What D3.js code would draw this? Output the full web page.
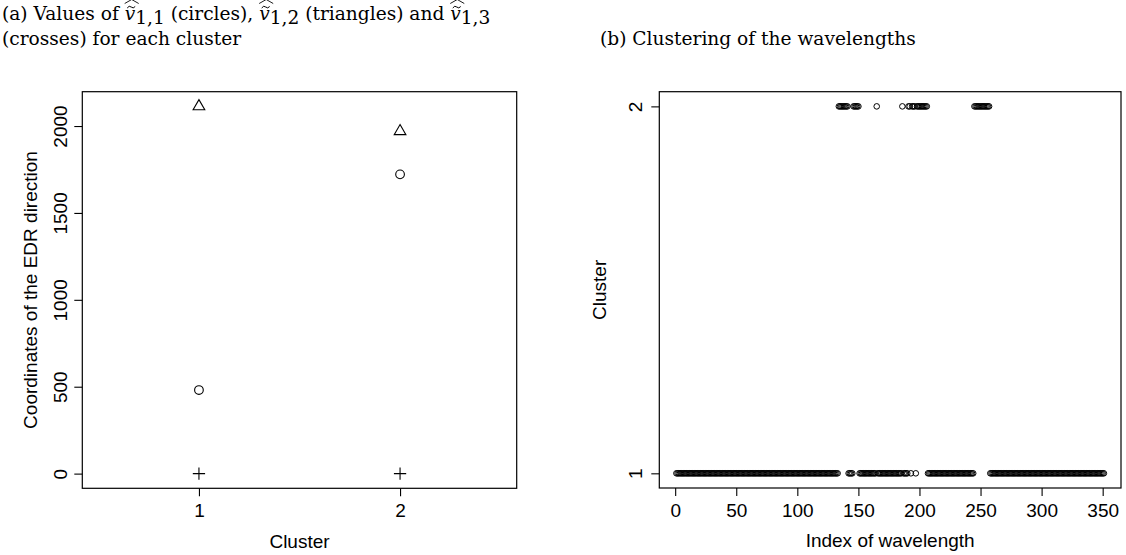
<!DOCTYPE html>
<html>
<head>
<meta charset="utf-8">
<script src="https://cdn.jsdelivr.net/npm/d3@7"></script>
<style>
  body { margin: 0; background: #fff; }
  svg { display: block; }
  .tick text, .lab { font-family: "Liberation Sans", Arial, sans-serif; font-size: 19px; fill: #000; }
  .ttl { font-family: "DejaVu Serif", serif; font-size: 18.6px; fill: #000; white-space: pre; }
</style>
</head>
<body>
<div id="chart"></div>
<script>
"use strict";

// panel (a): EDR coordinates per cluster
var clusters = [1, 2];
var v11 = [481, 1722];   // circles
var v12 = [2113, 1970];  // triangles
var v13 = [0, 0];        // crosses
var leftYTicks = [0, 500, 1000, 1500, 2000];

// panel (b): cluster of each wavelength, as runs [from, to, cluster]
var clusterRuns = [
  [1, 133, 1], [134, 141, 2], [142, 145, 1], [146, 150, 2],
  [151, 164, 1], [165, 165, 2], [166, 185, 1], [186, 186, 2],
  [187, 190, 1], [191, 192, 2], [193, 193, 1], [194, 196, 2],
  [197, 197, 1], [198, 206, 2], [207, 244, 1], [245, 257, 2],
  [258, 351, 1]
];
var rightXTicks = [0, 50, 100, 150, 200, 250, 300, 350];
var rightYTicks = [1, 2];

var width = 1126,
  height = 555;

var svg = d3
  .select("#chart")
  .append("svg")
  .attr("width", width)
  .attr("height", height);

// R pads the data range by 4% on each side
function rDomain(lo, hi) {
  var e = (hi - lo) * 0.04;
  return [lo - e, hi + e];
}

// ---------- panel (a)
var boxA = { l: 82.3, r: 516.7, t: 91.7, b: 488.3 };
var xA = d3.scaleLinear().domain(rDomain(0.5, 2.5)).range([boxA.l, boxA.r]);
var yA = d3.scaleLinear().domain(rDomain(0, d3.max(v12))).range([boxA.b, boxA.t]);

var gA = svg.append("g");

gA.append("g")
  .attr("transform", "translate(0," + boxA.b + ")")
  .call(d3.axisBottom(xA).tickValues(clusters).tickFormat(d3.format("d")).tickSize(8))
  .call(g => g.select(".domain").remove())
  .call(g => g.selectAll("text").attr("dy", 0).attr("y", 28.3));

gA.append("g")
  .attr("transform", "translate(" + boxA.l + ",0)")
  .call(d3.axisLeft(yA).tickValues(leftYTicks).tickFormat(d3.format("d")).tickSize(8))
  .call(g => g.select(".domain").remove())
  .call(g =>
    g.selectAll("text")
      .attr("x", 0)
      .attr("y", -15.8)
      .attr("dy", 0)
      .attr("text-anchor", "middle")
      .attr("transform", "rotate(-90)")
  );

gA.selectAll(".tick line").attr("stroke", "#000").attr("stroke-width", 1.1);

gA.append("rect")
  .attr("x", boxA.l)
  .attr("y", boxA.t)
  .attr("width", boxA.r - boxA.l)
  .attr("height", boxA.b - boxA.t)
  .attr("fill", "none")
  .attr("stroke", "#000")
  .attr("stroke-width", 1.2);

gA.append("text")
  .attr("class", "lab")
  .attr("x", (boxA.l + boxA.r) / 2)
  .attr("y", 548)
  .attr("text-anchor", "middle")
  .text("Cluster");

gA.append("text")
  .attr("class", "lab")
  .attr("transform", "translate(36.6," + (boxA.t + boxA.b) / 2 + ") rotate(-90)")
  .attr("text-anchor", "middle")
  .text("Coordinates of the EDR direction");

// pch 1 / 2 / 3 sizes
var R = 4.34;
function triangle(cx, cy) {
  var r = 1.5551 * R, xc = 1.3468 * R, yc = 0.7776 * R;
  var p = d3.path();
  p.moveTo(cx, cy - r);
  p.lineTo(cx + xc, cy + yc);
  p.lineTo(cx - xc, cy + yc);
  p.closePath();
  return p.toString();
}
function cross(cx, cy) {
  var c = Math.SQRT2 * R;
  return "M" + (cx - c) + "," + cy + "H" + (cx + c) + "M" + cx + "," + (cy - c) + "V" + (cy + c);
}

gA.selectAll("circle.v11")
  .data(clusters)
  .enter()
  .append("circle")
  .attr("class", "v11")
  .attr("cx", d => xA(d))
  .attr("cy", (d, i) => yA(v11[i]))
  .attr("r", R)
  .attr("fill", "none")
  .attr("stroke", "#000")
  .attr("stroke-width", 1.1);

gA.selectAll("path.v12")
  .data(clusters)
  .enter()
  .append("path")
  .attr("class", "v12")
  .attr("d", (d, i) => triangle(xA(d), yA(v12[i])))
  .attr("fill", "none")
  .attr("stroke", "#000")
  .attr("stroke-width", 1.1);

gA.selectAll("path.v13")
  .data(clusters)
  .enter()
  .append("path")
  .attr("class", "v13")
  .attr("d", (d, i) => cross(xA(d), yA(v13[i])))
  .attr("fill", "none")
  .attr("stroke", "#000")
  .attr("stroke-width", 1.1);

// ---------- panel (b)
var points = [];
clusterRuns.forEach(function(run) {
  for (var k = run[0]; k <= run[1]; k++) points.push({ index: k, cluster: run[2] });
});

var boxB = { l: 659.3, r: 1121, t: 91.7, b: 488 };
var xB = d3.scaleLinear().domain(rDomain(1, d3.max(points, d => d.index))).range([boxB.l, boxB.r]);
var yB = d3.scaleLinear().domain(rDomain(1, 2)).range([boxB.b, boxB.t]);

var gB = svg.append("g");

gB.append("g")
  .attr("transform", "translate(0," + boxB.b + ")")
  .call(d3.axisBottom(xB).tickValues(rightXTicks).tickFormat(d3.format("d")).tickSize(8))
  .call(g => g.select(".domain").remove())
  .call(g => g.selectAll("text").attr("dy", 0).attr("y", 28.5));

gB.append("g")
  .attr("transform", "translate(" + boxB.l + ",0)")
  .call(d3.axisLeft(yB).tickValues(rightYTicks).tickFormat(d3.format("d")).tickSize(8))
  .call(g => g.select(".domain").remove())
  .call(g =>
    g.selectAll("text")
      .attr("x", 0)
      .attr("y", -17)
      .attr("dy", 0)
      .attr("text-anchor", "middle")
      .attr("transform", "rotate(-90)")
  );

gB.selectAll(".tick line").attr("stroke", "#000").attr("stroke-width", 1.1);

gB.append("rect")
  .attr("x", boxB.l)
  .attr("y", boxB.t)
  .attr("width", boxB.r - boxB.l)
  .attr("height", boxB.b - boxB.t)
  .attr("fill", "none")
  .attr("stroke", "#000")
  .attr("stroke-width", 1.2);

gB.selectAll("circle.pt")
  .data(points)
  .enter()
  .append("circle")
  .attr("class", "pt")
  .attr("cx", d => xB(d.index))
  .attr("cy", d => yB(d.cluster))
  .attr("r", 2.8)
  .attr("fill", "none")
  .attr("stroke", "#000")
  .attr("stroke-width", 1);

gB.append("text")
  .attr("class", "lab")
  .attr("x", (boxB.l + boxB.r) / 2)
  .attr("y", 547)
  .attr("text-anchor", "middle")
  .text("Index of wavelength");

gB.append("text")
  .attr("class", "lab")
  .attr("transform", "translate(606," + (boxB.t + boxB.b) / 2 + ") rotate(-90)")
  .attr("text-anchor", "middle")
  .text("Cluster");

// ---------- titles (serif, with hat + tilde accents)
function mathLine(x, y, parts) {
  var cx = x;
  parts.forEach(function(p) {
    var t = svg.append("text").attr("class", "ttl").attr("x", cx).attr("y", y).text(p.t);
    if (p.it) t.attr("font-style", "italic");
    if (p.sub) t.attr("font-size", "13.5px").attr("y", y + 4);
    var w = t.node().getComputedTextLength();
    if (p.it) {
      // tilde
      var tx = cx + 2.5, ty = y - 13.5;
      svg.append("path")
        .attr("d", "M" + tx + "," + (ty + 1.5) + " q2,-3 4,-1 t4,-0.5")
        .attr("fill", "none").attr("stroke", "#000").attr("stroke-width", 1);
      // wide hat
      var hx = cx, hy = y - 16.5;
      svg.append("path")
        .attr("d", "M" + hx + "," + hy + " L" + (hx + 7) + "," + (hy - 4) + " L" + (hx + 14) + "," + hy)
        .attr("fill", "none").attr("stroke", "#000").attr("stroke-width", 0.9);
    }
    cx += w;
  });
  return cx;
}

mathLine(2, 20, [
  { t: "(a) Values of " }, { t: "v", it: true }, { t: "1,1", sub: true },
  { t: " (circles), " }, { t: "v", it: true }, { t: "1,2", sub: true },
  { t: " (triangles) and " }, { t: "v", it: true }, { t: "1,3", sub: true }
]);
mathLine(2, 45, [{ t: "(crosses) for each cluster" }]);
mathLine(600, 45, [{ t: "(b) Clustering of the wavelengths" }]);
</script>
</body>
</html>
